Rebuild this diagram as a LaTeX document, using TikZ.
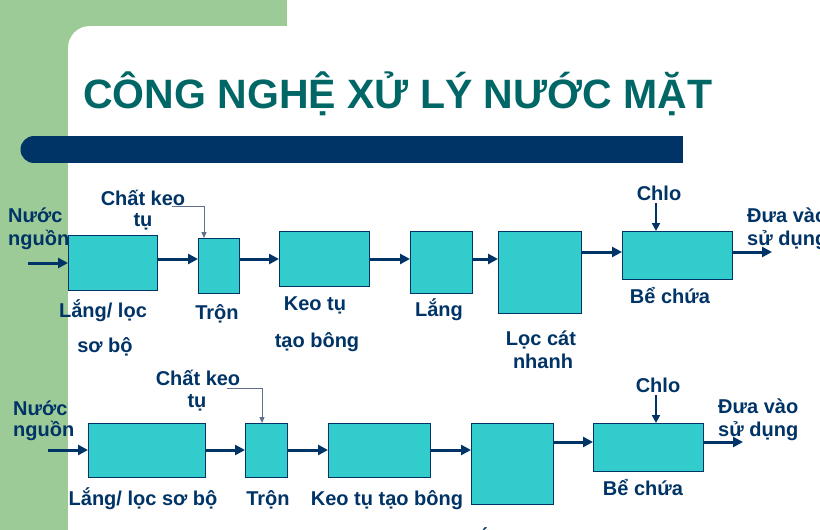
\documentclass[tikz,border=0pt]{standalone}
\usepackage{fontspec}
\setmainfont{Liberation Sans}
\usetikzlibrary{arrows.meta}
\definecolor{navy}{RGB}{0,51,102}
\definecolor{titleteal}{RGB}{0,102,102}
\definecolor{bggreen}{RGB}{157,203,152}
\definecolor{boxc}{RGB}{51,204,204}
\definecolor{leader}{RGB}{96,112,140}
\newcommand{\lbfont}{\fontsize{20}{24}\selectfont\bfseries}
\tikzset{
  box/.style={draw=navy, line width=1.2pt, fill=boxc, inner sep=0pt, anchor=north west},
  lbl/.style={text=navy, font=\lbfont, anchor=base, inner sep=0pt},
  lblw/.style={text=navy, font=\lbfont, anchor=base west, inner sep=0pt},
  flow/.style={draw=navy, line width=3pt, -{Triangle[length=10pt,width=10pt]}},
  dose/.style={draw=navy, line width=2pt, -{Triangle[length=8pt,width=8pt]}},
  lead/.style={draw=leader, line width=1pt, -{Triangle[length=6pt,width=5pt]}},
}
\begin{document}
\begin{tikzpicture}[x=1pt,y=-1pt]
\useasboundingbox (0,0) rectangle (820,530);
% background
\fill[white] (0,0) rectangle (820,530);
\fill[bggreen] (0,0) rectangle (287,530);
\fill[white, rounded corners=22pt] (68,26) rectangle (900,620);
% title
\node[anchor=base west, inner sep=0pt, text=titleteal, font=\fontsize{41}{48}\selectfont\bfseries] (title) at (83,108) {CÔNG NGHỆ XỬ LÝ NƯỚC MẶT};
% bar
\fill[navy] (34,149.5) circle[radius=13.5];
\fill[navy] (34,136) rectangle (683,163);

% ---------------- Row 1 ----------------
\node[lblw] (n1a) at (8,222) {Nước};
\node[lblw] (n1b) at (8,245) {nguồn};
\coordinate (in1) at (28,263);
\node[box, minimum width=89, minimum height=55] (a1) at (68,235) {};
\node[box, minimum width=41, minimum height=55] (a2) at (198,238) {};
\node[box, minimum width=90, minimum height=55] (a3) at (279,231) {};
\node[box, minimum width=62, minimum height=62] (a4) at (410,231) {};
\node[box, minimum width=83, minimum height=82] (a5) at (498,231) {};
\node[box, minimum width=110, minimum height=48] (a6) at (622,231) {};
\coordinate (out1) at (772,252);

\node[lbl] (l1a) at (103,317) {Lắng/ lọc};
\node[lbl] (l1b) at (105,352) {sơ bộ};
\node[lbl] (l2) at (217,319) {Trộn};
\node[lbl] (l3a) at (315,310) {Keo tụ};
\node[lbl] (l3b) at (317,347) {tạo bông};
\node[lbl] (l4) at (439,316) {Lắng};
\node[lbl] (l5a) at (541,345) {Lọc cát};
\node[lbl] (l5b) at (543,368) {nhanh};
\node[lbl] (l6) at (670,303) {Bể chứa};
\node[lbl] (ck1a) at (143,205) {Chất keo};
\node[lbl] (ck1b) at (143,226) {tụ};
\node[lbl] (cl1) at (659,200) {Chlo};
\node[lblw] (d1a) at (747,222) {Đưa vào};
\node[lblw] (d1b) at (747,245) {sử dụng};

\draw[flow] (in1) -- (a1.west |- in1);
\draw[flow] (a1.east |- 0,259) -- (a2.west |- 0,259);
\draw[flow] (a2.east |- 0,259) -- (a3.west |- 0,259);
\draw[flow] (a3.east |- 0,259) -- (a4.west |- 0,259);
\draw[flow] (a4.east |- 0,259) -- (a5.west |- 0,259);
\draw[flow] (a5.east |- 0,252) -- (a6.west |- 0,252);
\draw[flow] (a6.east |- out1) -- (out1);
\draw[dose] (656,203) -- (a6.north -| 656,0);
\draw[lead] (172,206) -- (204,206) -- (a2.north -| 204,0);

% ---------------- Row 2 ----------------
\node[lblw] (n2a) at (13,415) {Nước};
\node[lblw] (n2b) at (13,436) {nguồn};
\coordinate (in2) at (48,450);
\node[box, minimum width=117, minimum height=54] (b1) at (88,423) {};
\node[box, minimum width=42, minimum height=54] (b2) at (245,423) {};
\node[box, minimum width=102, minimum height=54] (b3) at (328,423) {};
\node[box, minimum width=82, minimum height=81] (b4) at (471,423) {};
\node[box, minimum width=110, minimum height=48] (b5) at (593,423) {};
\coordinate (out2) at (743,442);

\node[lbl] (m1) at (143,505) {Lắng/ lọc sơ bộ};
\node[lbl] (m2) at (268,505) {Trộn};
\node[lbl] (m3) at (387,505) {Keo tụ tạo bông};
\node[lbl] (m4) at (510,545) {Lắng/ lọc};
\node[lbl] (m5) at (643,495) {Bể chứa};
\node[lbl] (ck2a) at (198,385) {Chất keo};
\node[lbl] (ck2b) at (197,407) {tụ};
\node[lbl] (cl2) at (658,392) {Chlo};
\node[lblw] (d2a) at (718,413) {Đưa vào};
\node[lblw] (d2b) at (718,436) {sử dụng};

\draw[flow] (in2) -- (b1.west |- in2);
\draw[flow] (b1.east |- 0,450) -- (b2.west |- 0,450);
\draw[flow] (b2.east |- 0,450) -- (b3.west |- 0,450);
\draw[flow] (b3.east |- 0,450) -- (b4.west |- 0,450);
\draw[flow] (b4.east |- 0,442) -- (b5.west |- 0,442);
\draw[flow] (b5.east |- out2) -- (out2);
\draw[dose] (656,395) -- (b5.north -| 656,0);
\draw[lead] (227,388) -- (262,388) -- (b2.north -| 262,0);
\end{tikzpicture}
\end{document}
